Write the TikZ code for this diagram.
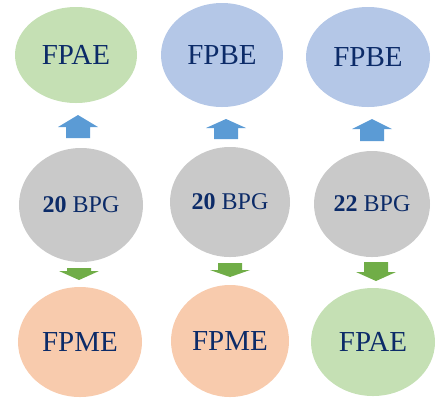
\documentclass[tikz,border=0pt]{standalone}
\usepackage{fontspec}
\setmainfont{Liberation Serif}
\usetikzlibrary{shapes.geometric}
\definecolor{leafgreen}{HTML}{C5E0B4}
\definecolor{skyblue}{HTML}{B4C7E7}
\definecolor{stone}{HTML}{C9C9C9}
\definecolor{peach}{HTML}{F8CBAD}
\definecolor{upblue}{HTML}{5B9BD5}
\definecolor{downgreen}{HTML}{70AD47}
\definecolor{ink}{HTML}{0C2B68}
\begin{document}
\begin{tikzpicture}[x=1bp,y=-1bp,
  bubble/.style={ellipse, inner sep=0pt, text=ink, font=\fontsize{29bp}{34bp}\selectfont},
  core/.style={bubble, fill=stone, font=\fontsize{24bp}{28bp}\selectfont},
  pics/blockup/.style n args={2}{code={
    \fill[upblue] (0,0) -- (20,#1) -- (12,#1) -- (12,#1+#2) -- (-12,#1+#2)
      -- (-12,#1) -- (-20,#1) -- cycle;}},
  pics/blockdown/.style n args={2}{code={
    \fill[downgreen] (-12,0) -- (12,0) -- (12,#1) -- (20,#1) -- (0,#1+#2)
      -- (-20,#1) -- (-12,#1) -- cycle;}}]
\useasboundingbox (0,0) rectangle (436,398);

% top row
\node[bubble, fill=leafgreen, minimum width=122bp, minimum height=96bp] (t1) at (76,55) {FPAE};
\node[bubble, fill=skyblue, minimum width=122bp, minimum height=104bp] (t2) at (222,55) {FPBE};
\node[bubble, fill=skyblue, minimum width=124bp, minimum height=100bp] (t3) at (368,57) {FPBE};

% middle row
\node[core, minimum width=124bp, minimum height=114bp] (m1) at (81,205) {\textbf{20} BPG};
\node[core, minimum width=120bp, minimum height=110bp] (m2) at (230,202) {\textbf{20} BPG};
\node[core, minimum width=116bp, minimum height=106bp] (m3) at (372,204) {\textbf{22} BPG};

% bottom row
\node[bubble, fill=peach, minimum width=124bp, minimum height=110bp] (b1) at (80,342) {FPME};
\node[bubble, fill=peach, minimum width=118bp, minimum height=112bp] (b2) at (230,341) {FPME};
\node[bubble, fill=leafgreen, minimum width=124bp, minimum height=108bp] (b3) at (373,342) {FPAE};

% block arrows between the rows
\coordinate (u1) at (78,115);
\coordinate (u2) at (226,119);
\coordinate (u3) at (372,119);
\coordinate (d1) at (79,268);
\coordinate (d2) at (230,263);
\coordinate (d3) at (376,262);
\pic at (u1) {blockup={12}{11}};
\pic at (u2) {blockup={9}{11}};
\pic at (u3) {blockup={10}{12}};
\pic at (d1) {blockdown={3}{9}};
\pic at (d2) {blockdown={7}{7}};
\pic at (d3) {blockdown={10}{9}};
\end{tikzpicture}
\end{document}
